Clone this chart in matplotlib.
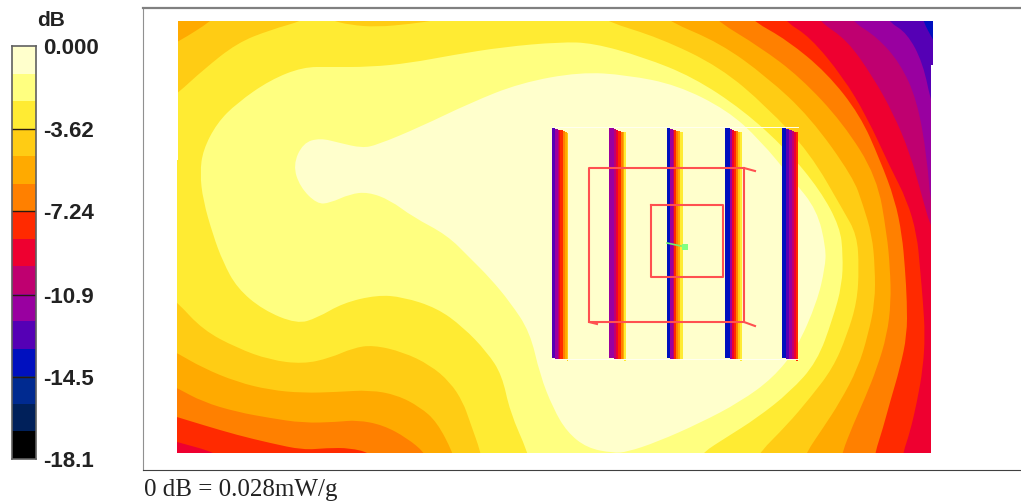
import math
import matplotlib
matplotlib.use('Agg')
import matplotlib.pyplot as plt
from matplotlib.patches import Polygon, PathPatch
from matplotlib.path import Path

# colour bar
band_colors = ['#FFFFCC', '#FFFF80', '#FFEB33', '#FFCC14', '#FFAA00', '#FF8000', '#FF2A00', '#EE0030',
               '#BF0070', '#9900A0', '#5500B5', '#0010BF', '#002A90', '#00205A', '#000000']
db_min = -18.1
db_ticks = [0.0, -3.62, -7.24, -10.9, -14.5, -18.1]
db_labels = ['0.000', '-3.62', '-7.24', '-10.9', '-14.5', '-18.1']

# outline of the scanned area
field = [(178, 21), (933, 21), (933, 65), (931, 65), (931, 453), (177, 453), (177, 160), (178, 160)]

# contour outlines, index = band number
level_10 = [(170, 15), (923, 15), (923, 21), (933, 40), (940, 50), (940, 460), (170, 460)]
level_9 = [(170, 15), (889, 15), (889, 22), (907, 33), (923, 63), (932, 107), (940, 110), (940, 460), (170, 460)]
level_8 = [(170, 15), (853, 15), (853, 22), (877, 37), (900, 63), (917, 100), (927, 157), (931, 210), (940, 215),
           (940, 460), (170, 460)]
level_7 = [(170, 15), (820, 15), (820, 22), (847, 40), (873, 77), (893, 113), (910, 153), (923, 200), (931, 228),
           (940, 235), (940, 460), (170, 460)]
level_6 = [(170, 15), (786, 15), (786, 22), (810, 37), (843, 77), (867, 117), (890, 167), (907, 200), (917, 235),
           (920, 268), (923, 302), (925, 335), (923, 368), (917, 402), (910, 432), (903, 453), (903, 460),
           (217, 460), (217, 453), (177, 442), (170, 440)]
level_5 = [(170, 15), (753, 15), (753, 21), (787, 40), (827, 73), (860, 115), (880, 160), (895, 200), (902, 235),
           (905, 268), (907, 302), (907, 335), (900, 368), (890, 402), (883, 428), (875, 453), (875, 460),
           (370, 460), (370, 453), (350, 448), (327, 448), (303, 450), (270, 443), (237, 435), (203, 425),
           (177, 417), (170, 415)]
level_4 = [(170, 15), (717, 15), (717, 21), (760, 47), (800, 77), (843, 123), (877, 177), (887, 235), (890, 268),
           (891, 302), (887, 335), (877, 368), (865, 398), (853, 425), (842, 453), (842, 460), (425, 460),
           (425, 453), (407, 438), (383, 425), (357, 420), (337, 422), (303, 423), (270, 418), (237, 412),
           (203, 402), (177, 388), (170, 385)]
level_3 = [(213, 15), (668, 15), (668, 21), (720, 43), (767, 77), (810, 117), (853, 177), (863, 205), (872, 235),
           (875, 268), (875, 302), (868, 335), (858, 368), (840, 402), (823, 428), (806, 453), (806, 460),
           (453, 460), (453, 453), (437, 422), (420, 407), (397, 395), (370, 390), (337, 392), (303, 393),
           (270, 390), (237, 382), (203, 368), (177, 353), (170, 350), (170, 45), (178, 42), (213, 20)]
level_2 = [(438, 15), (605, 15), (605, 21), (660, 38), (720, 67), (767, 107), (810, 153), (843, 210), (857, 235),
           (859, 268), (857, 302), (847, 335), (833, 368), (810, 398), (787, 425), (759, 453), (759, 460),
           (481, 460), (481, 453), (470, 422), (463, 402), (450, 382), (430, 365), (403, 352), (373, 345),
           (353, 348), (330, 358), (303, 364), (270, 360), (237, 348), (203, 330), (177, 302), (170, 298),
           (170, 98), (178, 93), (203, 70), (237, 43), (270, 30), (305, 20), (305, 15), (330, 15), (330, 20),
           (350, 25), (377, 27), (410, 24), (438, 20)]
level_1 = [(303, 67), (330, 67), (370, 67), (410, 63), (453, 55), (503, 47), (560, 42), (593, 43), (643, 57),
           (693, 77), (743, 110), (787, 150), (820, 190), (840, 227), (843, 255), (842, 285), (833, 318),
           (817, 362), (790, 392), (757, 418), (727, 437), (702, 453), (702, 460), (528, 460), (528, 453),
           (510, 412), (502, 375), (487, 352), (463, 327), (437, 308), (403, 297), (377, 295), (343, 303),
           (317, 318), (297, 324), (263, 310), (237, 288), (223, 262), (213, 235), (203, 200), (200, 173),
           (203, 150), (217, 123), (237, 103), (270, 80)]
level_0 = [(320, 138), (340, 143), (362, 148), (377, 145), (420, 127), (470, 103), (520, 83), (580, 72), (627, 75),
           (677, 85), (727, 110), (760, 140), (793, 180), (817, 210), (826, 248), (825, 268), (817, 302),
           (797, 348), (773, 378), (740, 402), (700, 423), (657, 442), (627, 452), (613, 453), (587, 448),
           (567, 432), (553, 408), (540, 375), (530, 332), (510, 302), (490, 278), (470, 258), (447, 235),
           (413, 217), (390, 200), (368, 192), (350, 194), (330, 203), (317, 204), (300, 187), (293, 165),
           (303, 143)]
levels = [level_10, level_9, level_8, level_7, level_6, level_5, level_4, level_3, level_2, level_1, level_0]
level_bands = [10, 9, 8, 7, 6, 5, 4, 3, 2, 1, 0]

# probe traces: left edge and (band, width) slices of each vertical stripe
stripe_left = [552, 609, 667, 725, 782]
stripe_slices = [
    [(10, 3), (9, 3), (8, 1), (7, 1), (6, 3), (5, 2), (4, 2), (3, 1)],
    [(9, 5), (8, 2), (7, 2), (6, 3), (5, 2), (4, 1), (2, 2)],
    [(11, 3), (9, 3), (8, 1), (6, 2), (5, 2), (4, 2), (2, 3)],
    [(11, 5), (9, 2), (7, 2), (6, 2), (5, 2), (3, 2), (2, 2)],
    [(11, 4), (10, 3), (9, 3), (8, 2), (7, 2), (6, 2)],
]
stripe_top = 128
stripe_bottom = 358

# red outlines and green marker
outer_x = [755, 744, 589, 589, 597]
outer_y = [171, 168, 168, 322, 324]
outer2_x = [744, 744, 755]
outer2_y = [168, 322, 326]
outer3_x = [589, 744]
outer3_y = [322, 322]
inner_x = [651, 723, 723, 651, 651]
inner_y = [205, 205, 277, 277, 205]
green_x = [667, 681]
green_y = [243, 246]


def smooth_path(pts):
    # long straight runs only lie outside the field, keep their corners tight
    dense = []
    n = len(pts)
    for i in range(n):
        x0, y0 = pts[i]
        x1, y1 = pts[(i + 1) % n]
        dense.append((x0, y0))
        d = math.hypot(x1 - x0, y1 - y0)
        if d > 100:
            dense.append((x0 + (x1 - x0) * 3 / d, y0 + (y1 - y0) * 3 / d))
            dense.append((x1 - (x1 - x0) * 3 / d, y1 - (y1 - y0) * 3 / d))
    # closed quadratic curve through the midpoints of the outline
    n = len(dense)
    mids = [((dense[i][0] + dense[(i + 1) % n][0]) / 2, (dense[i][1] + dense[(i + 1) % n][1]) / 2) for i in range(n)]
    verts = [mids[-1]]
    codes = [Path.MOVETO]
    for i in range(n):
        verts += [dense[i], mids[i]]
        codes += [Path.CURVE3, Path.CURVE3]
    return Path(verts, codes)


fig = plt.figure(figsize=(10.21, 5.04), dpi=100)

# main panel, data units are the pixels of the scan view
ax = fig.add_axes([143 / 1021, 1 - 470 / 504, 878 / 1021, 462 / 504])
ax.set_xlim(143, 1021)
ax.set_ylim(470, 8)
ax.set_xticks([])
ax.set_yticks([])
ax.spines['right'].set_visible(False)
ax.spines['top'].set_color('#808080')
ax.spines['top'].set_linewidth(1.6)
ax.spines['left'].set_color('#909090')
ax.spines['bottom'].set_color('#404040')

base = Polygon(field, closed=True, facecolor=band_colors[11], edgecolor='none')
ax.add_patch(base)
for outline, band in zip(levels, level_bands):
    p = PathPatch(smooth_path(outline), facecolor=band_colors[band], edgecolor='none')
    ax.add_patch(p)
    p.set_clip_path(base)

ax.plot(outer_x, outer_y, color='#FF5050', lw=1.5)
ax.plot(outer2_x, outer2_y, color='#FF5050', lw=1.5)
ax.plot(outer3_x, outer3_y, color='#FF5050', lw=1.5)
ax.plot(inner_x, inner_y, color='#FF5050', lw=1.5)

ax.plot([stripe_left[0], stripe_left[-1] + 16], [127, 127], color='#FFFFF0', lw=0.7)
ax.plot([stripe_left[0], stripe_left[-1] + 16], [359, 359], color='#FFFFF0', lw=0.7)

for left, slices in zip(stripe_left, stripe_slices):
    x = left
    total = sum(w for b, w in slices)
    for band, w in slices:
        # tops and bottoms of the stripes slant a little to the right
        top = stripe_top + 5 * (x - left) / total
        bottom = stripe_bottom + 3 * (x - left) / total
        ax.bar(x, bottom - top, width=w, bottom=top, align='edge', color=band_colors[band], lw=0)
        x += w

ax.plot(green_x, green_y, color='#70F070', lw=1.2)
ax.plot([684.5], [247.5], marker='s', ms=5, color='#80FF80', mew=0)

# colour bar
cax = fig.add_axes([12 / 1021, 1 - 459 / 504, 24 / 1021, 413 / 504])
step = -db_min / len(band_colors)
for i, c in enumerate(band_colors):
    cax.bar(0, step, bottom=-step * (i + 1), width=1, color=c, lw=0)
cax.set_xlim(-0.5, 0.5)
cax.set_ylim(db_min, 0)
cax.set_xticks([])
cax.yaxis.tick_right()
cax.set_yticks(db_ticks)
cax.set_yticklabels(db_labels, fontfamily='Liberation Sans', fontweight='bold', fontsize=16, color='#222222')
cax.tick_params(axis='y', length=0, pad=5)
for s in cax.spines.values():
    s.set_color('#606060')
    s.set_linewidth(1.2)
for v in db_ticks[1:-1]:
    cax.axhline(v, color='#2A1A10', lw=1)

fig.text(37 / 1021, 1 - 21 / 504, 'dB', fontfamily='Liberation Sans', fontweight='bold', fontsize=15,
         va='center', ha='left', color='#222222')
fig.text(144 / 1021, 1 - 490 / 504, '0 dB = 0.028mW/g', fontfamily='Liberation Serif', fontsize=18,
         va='center', ha='left', color='#222222')

fig.savefig('out.png', dpi=100)
